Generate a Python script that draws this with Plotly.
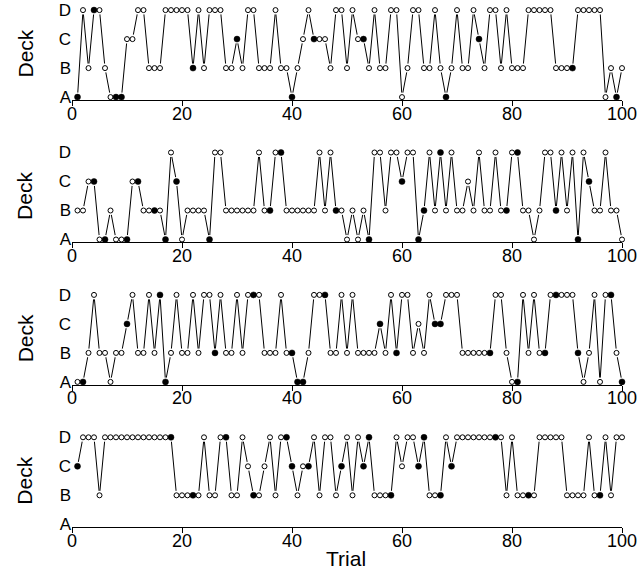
import plotly.graph_objects as go

trials = list(range(1, 101))
deck_names = ["A", "B", "C", "D"]
x_ticks = [0, 20, 40, 60, 80, 100]

# deck chosen on each trial (one letter per trial), four participants
decks_1 = ("ADBDDBAAAC" "CDDBBBDDDD" "DBDBDDDBBC" "BDDBBBDBBA" "BCDCCCBDDB"
           "DCCBDBBDDA" "BDDBBDBABD" "BBDCBDDBDB" "BBDDDDDBBB" "BDDDDDABAB")
filled_1 = [1, 4, 8, 9, 22, 30, 40, 44, 53, 68, 74, 91, 99]

decks_2 = ("BBCCAABAAA" "CCBBBBADCA" "BBBBADDBBB" "BBBDBBDDBB" "BBBBDBDBBA"
           "BABADDBDDC" "DDABDBDBDB" "BCBDBBDBBD" "DBBABDDBDB" "DADCBBDBBA")
filled_2 = [4, 6, 10, 12, 15, 17, 19, 25, 36, 38, 48, 54, 60, 63, 64, 67, 79,
            81, 88, 92, 94]

decks_3 = ("AABDBBABBC" "DBBDBDABDB" "BDBDDBDBBD" "BDDDBBBDBB" "AABDDDBBDB"
           "DBBBBCBDBD" "DBCBDCCDDD" "BBBBBBDDBA" "ADBDBBDDDD" "DBABDADDBA")
filled_3 = [2, 10, 16, 17, 26, 33, 40, 41, 42, 46, 56, 59, 66, 67, 76, 81, 86,
            88, 92, 98, 100]

decks_4 = ("CDDDBDDDDD" "DDDDDDDDBB" "BBBDBBDDBB" "DCBBCDBDDC" "BCCDBDDBCD"
           "BDCDBBBBDC" "DDCDBBBDCD" "DDDDDDDDBD" "BBBBDDDDDB" "BBBDBBDBDD")
filled_4 = [1, 18, 22, 28, 33, 39, 40, 43, 49, 53, 54, 58, 63, 64, 67, 69, 77,
            83, 96]

panels = [(decks_1, filled_1), (decks_2, filled_2),
          (decks_3, filled_3), (decks_4, filled_4)]

W, H = 640, 573
L, R = 72, 18
axis_px = [100, 242.4, 384.8, 527.2]   # pixel row of each x axis line
panel_h = 92.8

fig = go.Figure()
layout = {}
for i, (decks, filled) in enumerate(panels):
    n = i + 1
    xa, ya = ("x" if n == 1 else f"x{n}"), ("y" if n == 1 else f"y{n}")
    ys = list(decks)
    open_t = [t for t in trials if t not in filled]
    # connecting line
    fig.add_trace(go.Scatter(x=trials, y=ys, mode="lines", xaxis=xa, yaxis=ya,
                             line=dict(color="black", width=1), showlegend=False,
                             hoverinfo="skip", cliponaxis=False))
    # white halo so the line stops short of each point (R type="b")
    fig.add_trace(go.Scatter(x=trials, y=ys, mode="markers", xaxis=xa, yaxis=ya,
                             marker=dict(size=9, color="white", line=dict(width=0)),
                             showlegend=False, hoverinfo="skip", cliponaxis=False))
    fig.add_trace(go.Scatter(x=open_t, y=[decks[t - 1] for t in open_t],
                             mode="markers", xaxis=xa, yaxis=ya,
                             marker=dict(size=5, color="white",
                                         line=dict(width=1, color="black")),
                             showlegend=False, cliponaxis=False))
    fig.add_trace(go.Scatter(x=filled, y=[decks[t - 1] for t in filled],
                             mode="markers", xaxis=xa, yaxis=ya,
                             marker=dict(size=6, color="black",
                                         line=dict(width=0.5, color="black")),
                             showlegend=False, cliponaxis=False))

    bottom = 1 - axis_px[i] / H
    top = 1 - (axis_px[i] - panel_h) / H
    layout["xaxis" if n == 1 else f"xaxis{n}"] = dict(
        domain=[0, 1], anchor=ya, range=[0, 100], tickvals=x_ticks,
        showline=True, linecolor="black", linewidth=1, ticks="outside",
        ticklen=5, tickcolor="black", showgrid=False, zeroline=False,
        ticklabelstandoff=-8,
        tickfont=dict(size=18, color="black"), automargin=False)
    layout["yaxis" if n == 1 else f"yaxis{n}"] = dict(
        domain=[bottom, top], anchor=xa, type="category",
        categoryorder="array", categoryarray=deck_names, range=[-0.1, 3.1],
        showline=False, ticks="", showgrid=False, zeroline=False,
        tickfont=dict(size=17, color="black"), automargin=False)
    fig.add_annotation(text="Deck", xref="paper", yref="paper",
                       x=(25 - L) / (W - L - R), xanchor="center",
                       y=1 - (axis_px[i] - 3 - 43.5) / H, yanchor="middle",
                       textangle=-90, showarrow=False,
                       font=dict(size=21, color="black"))

fig.add_annotation(text="Trial", xref="paper", yref="paper",
                   x=(346 - L) / (W - L - R), xanchor="center",
                   y=1 - 558 / H, yanchor="middle", showarrow=False,
                   font=dict(size=21, color="black"))

fig.update_layout(**layout)
fig.update_layout(width=W, height=H, margin=dict(l=L, r=R, t=0, b=0),
                  plot_bgcolor="white", paper_bgcolor="white",
                  font=dict(family="Liberation Sans, Arial, sans-serif"))

# drop the page's default 8px body margin so the figure sits at the corner
fig.write_html("out.html", config={"displayModeBar": False},
               post_script="document.body.style.margin='0';")
